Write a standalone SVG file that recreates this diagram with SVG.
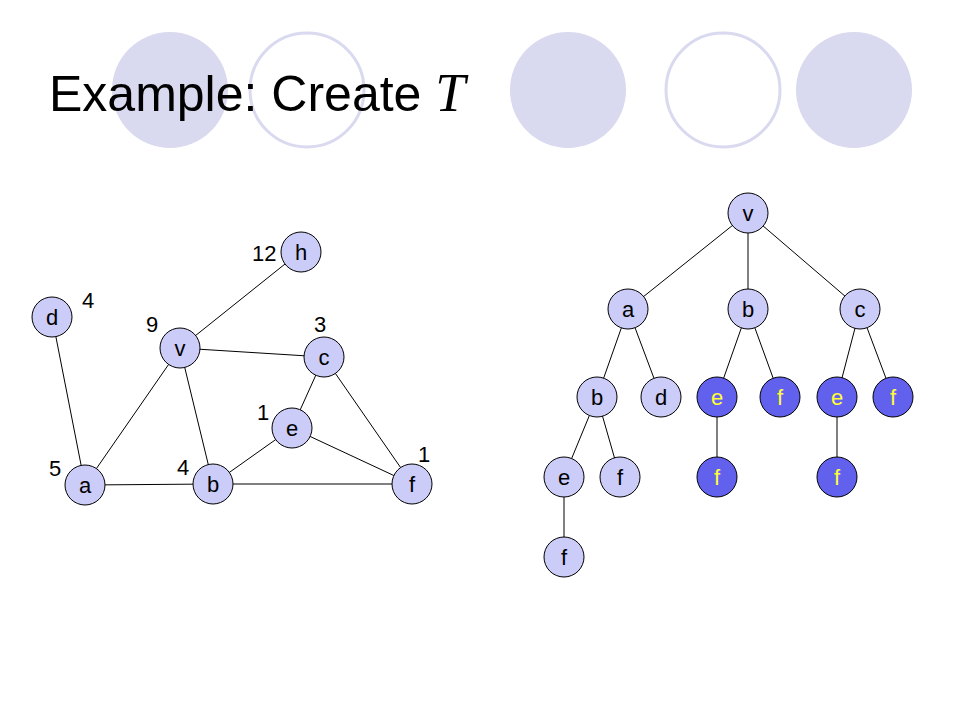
<svg xmlns="http://www.w3.org/2000/svg" width="960" height="720" viewBox="0 0 960 720">
<style>
.bgf{fill:#d9d9ef;stroke:none}
.bgo{fill:#ffffff;stroke:#d9d9ef;stroke-width:3}
.n circle{fill:#ccccf9;stroke:#000;stroke-width:1}
.n text{font-family:"Liberation Sans",Arial,sans-serif;font-size:22px;fill:#000;text-anchor:middle}
.dk circle{fill:#6161ee;stroke:#000;stroke-width:1}
.dk text{font-family:"Liberation Sans",Arial,sans-serif;font-size:22px;fill:#ffff33;text-anchor:middle}
.edges line{stroke:#000;stroke-width:1}
.lbl{font-family:"Liberation Sans",Arial,sans-serif;font-size:22px;fill:#000}
.title{font-family:"Liberation Sans",Arial,sans-serif;font-size:50px;fill:#000}
.ti{font-family:"Liberation Serif","Times New Roman",serif;font-style:italic;font-size:54px}
</style>
<rect width="960" height="720" fill="#ffffff"/>
<g id="background">
<circle class="bgf" cx="170" cy="90" r="58"/>
<circle class="bgo" cx="307" cy="90" r="57"/>
<circle class="bgf" cx="568" cy="90" r="58"/>
<circle class="bgo" cx="723" cy="90" r="57"/>
<circle class="bgf" cx="854" cy="90" r="58"/>
</g>
<text id="title" class="title" x="49" y="111">Example: Create <tspan class="ti">T</tspan></text>

<g class="edges" id="graph-edges">
<line x1="52" y1="317" x2="85" y2="485"/>
<line x1="85" y1="485" x2="180" y2="348"/>
<line x1="180" y1="348" x2="300" y2="252"/>
<line x1="180" y1="348" x2="324" y2="357"/>
<line x1="180" y1="348" x2="213" y2="484"/>
<line x1="324" y1="357" x2="292" y2="428"/>
<line x1="324" y1="357" x2="412" y2="484"/>
<line x1="292" y1="428" x2="213" y2="484"/>
<line x1="292" y1="428" x2="412" y2="484"/>
<line x1="85" y1="485" x2="213" y2="484"/>
<line x1="213" y1="484" x2="412" y2="484"/>
</g>

<g id="g-h" class="n"><circle cx="301" cy="252" r="20"/><text x="301" y="260">h</text></g>
<g id="g-d" class="n"><circle cx="52" cy="317" r="20"/><text x="52" y="325">d</text></g>
<g id="g-v" class="n"><circle cx="180" cy="348" r="20"/><text x="180" y="356">v</text></g>
<g id="g-c" class="n"><circle cx="324" cy="357" r="20"/><text x="324" y="365">c</text></g>
<g id="g-e" class="n"><circle cx="292" cy="428" r="20"/><text x="292" y="436">e</text></g>
<g id="g-a" class="n"><circle cx="85" cy="485" r="20"/><text x="85" y="493">a</text></g>
<g id="g-b" class="n"><circle cx="213" cy="484" r="20"/><text x="213" y="492">b</text></g>
<g id="g-f" class="n"><circle cx="412" cy="484" r="20"/><text x="412" y="492">f</text></g>

<g id="weights">
<text class="lbl" x="252" y="261">12</text>
<text class="lbl" x="82" y="308">4</text>
<text class="lbl" x="146" y="332">9</text>
<text class="lbl" x="314" y="332">3</text>
<text class="lbl" x="257" y="420">1</text>
<text class="lbl" x="418" y="462">1</text>
<text class="lbl" x="49" y="476">5</text>
<text class="lbl" x="177" y="475">4</text>
</g>

<g class="edges" id="tree-edges">
<line x1="748" y1="213" x2="628" y2="309"/>
<line x1="748" y1="213" x2="748" y2="309"/>
<line x1="748" y1="213" x2="860" y2="309"/>
<line x1="628" y1="309" x2="597" y2="397"/>
<line x1="628" y1="309" x2="661" y2="397"/>
<line x1="748" y1="309" x2="717" y2="397"/>
<line x1="748" y1="309" x2="780" y2="397"/>
<line x1="860" y1="309" x2="837" y2="397"/>
<line x1="860" y1="309" x2="893" y2="397"/>
<line x1="597" y1="397" x2="564" y2="477"/>
<line x1="597" y1="397" x2="620" y2="477"/>
<line x1="717" y1="397" x2="717" y2="477"/>
<line x1="837" y1="397" x2="837" y2="477"/>
<line x1="564" y1="477" x2="564" y2="557"/>
</g>

<g id="t-v" class="n"><circle cx="748" cy="213" r="20"/><text x="748" y="221">v</text></g>
<g id="t-a" class="n"><circle cx="628" cy="309" r="20"/><text x="628" y="317">a</text></g>
<g id="t-b" class="n"><circle cx="748" cy="309" r="20"/><text x="748" y="317">b</text></g>
<g id="t-c" class="n"><circle cx="860" cy="309" r="20"/><text x="860" y="317">c</text></g>
<g id="t-ab" class="n"><circle cx="597" cy="397" r="20"/><text x="597" y="405">b</text></g>
<g id="t-ad" class="n"><circle cx="661" cy="397" r="20"/><text x="661" y="405">d</text></g>
<g id="t-be" class="dk"><circle cx="717" cy="397" r="20"/><text x="717" y="405">e</text></g>
<g id="t-bf" class="dk"><circle cx="780" cy="397" r="20"/><text x="780" y="405">f</text></g>
<g id="t-ce" class="dk"><circle cx="837" cy="397" r="20"/><text x="837" y="405">e</text></g>
<g id="t-cf" class="dk"><circle cx="893" cy="397" r="20"/><text x="893" y="405">f</text></g>
<g id="t-abe" class="n"><circle cx="564" cy="477" r="20"/><text x="564" y="485">e</text></g>
<g id="t-abf" class="n"><circle cx="620" cy="477" r="20"/><text x="620" y="485">f</text></g>
<g id="t-bef" class="dk"><circle cx="717" cy="477" r="20"/><text x="717" y="485">f</text></g>
<g id="t-cef" class="dk"><circle cx="837" cy="477" r="20"/><text x="837" y="485">f</text></g>
<g id="t-abef" class="n"><circle cx="564" cy="557" r="20"/><text x="564" y="565">f</text></g>
</svg>
